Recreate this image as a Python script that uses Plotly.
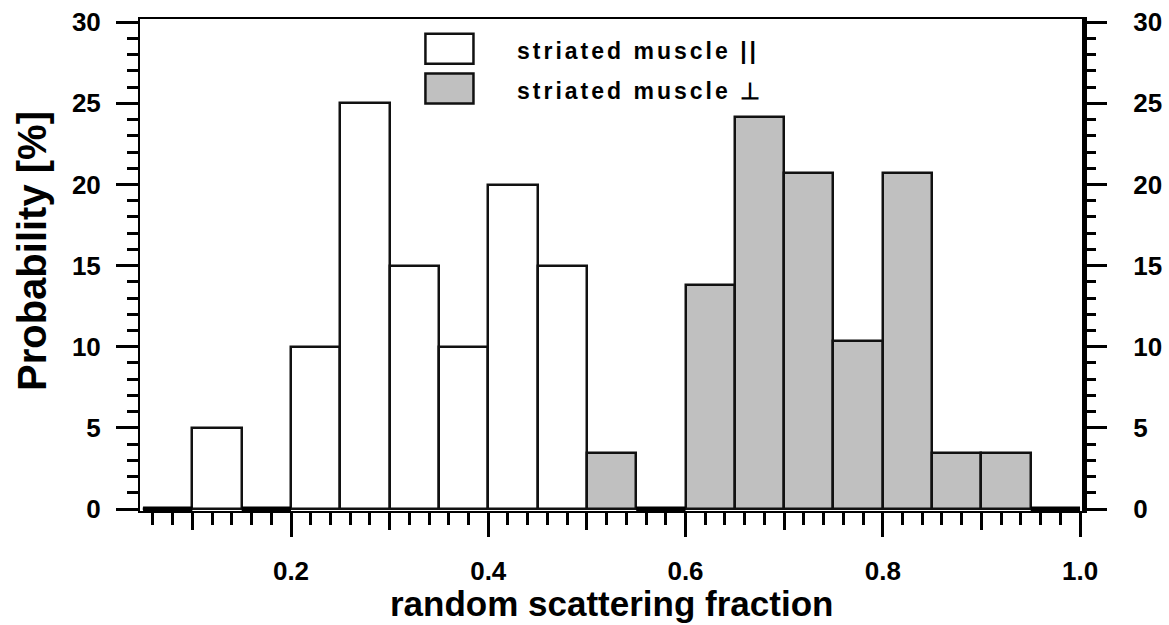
import plotly.graph_objects as go

# ---- data ----
bin_width = 0.05
parallel_bins = [0.075, 0.125, 0.175, 0.225, 0.275, 0.325, 0.375, 0.425, 0.475]
parallel_vals = [0, 5, 0, 10, 25, 15, 10, 20, 15]
perp_bins = [0.525, 0.575, 0.625, 0.675, 0.725, 0.775, 0.825, 0.875, 0.925, 0.975]
perp_vals = [3.45, 0, 13.79, 24.14, 20.69, 10.34, 20.69, 3.45, 3.45, 0]
series_names = ["striated muscle ||", "striated muscle \u22a5"]
x_major_ticks = [0.2, 0.4, 0.6, 0.8, 1.0]
x_major_labels = ["0.2", "0.4", "0.6", "0.8", "1.0"]
x_mid_ticks = [0.1, 0.3, 0.5, 0.7, 0.9]
y_ticks = [0, 5, 10, 15, 20, 25, 30]
x_title = "random scattering fraction"
y_title = "Probability [%]"

FONT = "Liberation Sans, Arial, sans-serif"
fill_colors = ["#ffffff", "#c0c0c0"]


def zero_segments(centers, vals):
    xs, ys = [], []
    for c, v in zip(centers, vals):
        if v == 0:
            xs += [c - bin_width / 2, c + bin_width / 2, None]
            ys += [0, 0, None]
    return xs, ys


fig = go.Figure()
for centers, vals, color, name in [
    (parallel_bins, parallel_vals, fill_colors[0], series_names[0]),
    (perp_bins, perp_vals, fill_colors[1], series_names[1]),
]:
    fig.add_trace(go.Bar(
        x=centers, y=vals, width=bin_width, name=name,
        marker=dict(color=color, line=dict(color="#111111", width=2.5)),
        showlegend=False,
    ))
    zx, zy = zero_segments(centers, vals)
    fig.add_trace(go.Scatter(
        x=zx, y=zy, mode="lines", line=dict(color="#000000", width=5),
        showlegend=False, hoverinfo="skip", cliponaxis=False,
    ))

# dummy traces to activate overlay axes
fig.add_trace(go.Scatter(x=[None], y=[None], xaxis="x2", yaxis="y",
                         showlegend=False, hoverinfo="skip"))
fig.add_trace(go.Scatter(x=[None], y=[None], xaxis="x", yaxis="y2",
                         showlegend=False, hoverinfo="skip"))

xr = [0.0469, 1.002]
yr = [-0.123, 30.2]

fig.update_layout(
    width=1169, height=625,
    margin=dict(l=140, r=87, t=19, b=114, autoexpand=False),
    paper_bgcolor="white", plot_bgcolor="white",
    bargap=0,
    font=dict(family=FONT, color="black"),
    xaxis=dict(
        range=xr, showgrid=False, zeroline=False, automargin=False,
        showline=True, linecolor="black", linewidth=2, mirror=True,
        tickmode="array", tickvals=x_major_ticks, ticktext=x_major_labels,
        ticks="outside", ticklen=24, tickwidth=3, tickcolor="black",
        ticklabelstandoff=12,
        tickfont=dict(family=FONT, size=26, color="black", weight="bold"),
        minor=dict(tickmode="linear", tick0=0, dtick=0.02, ticks="outside",
                   ticklen=12, tickwidth=3, tickcolor="black", showgrid=False),
    ),
    xaxis2=dict(
        range=xr, overlaying="x", anchor="y", side="bottom", automargin=False,
        showgrid=False, zeroline=False, showline=False,
        tickmode="array", tickvals=x_mid_ticks, showticklabels=False,
        ticks="outside", ticklen=18, tickwidth=3, tickcolor="black",
    ),
    yaxis=dict(
        range=yr, showgrid=False, zeroline=False, automargin=False,
        showline=True, linecolor="black", linewidth=2, mirror=False,
        tickmode="array", tickvals=y_ticks,
        ticks="outside", ticklen=22, tickwidth=2.5, tickcolor="black",
        ticklabelstandoff=10,
        tickfont=dict(family=FONT, size=26, color="black", weight="bold"),
        minor=dict(tickmode="linear", tick0=0, dtick=1, ticks="outside",
                   ticklen=11, tickwidth=2.5, tickcolor="black", showgrid=False),
    ),
    yaxis2=dict(
        range=yr, overlaying="y", anchor="x", side="right", automargin=False,
        showgrid=False, zeroline=False,
        showline=True, linecolor="black", linewidth=5,
        tickmode="array", tickvals=y_ticks,
        ticks="outside", ticklen=20, tickwidth=2.5, tickcolor="black",
        ticklabelstandoff=21,
        tickfont=dict(family=FONT, size=26, color="black", weight="bold"),
        minor=dict(tickmode="linear", tick0=0, dtick=1, ticks="outside",
                   ticklen=9, tickwidth=2.5, tickcolor="black", showgrid=False),
    ),
)

# axis titles
fig.add_annotation(xref="paper", yref="paper", x=0.5, y=-0.187,
                   xanchor="center", yanchor="middle", text=x_title, showarrow=False,
                   font=dict(family=FONT, size=35, color="black", weight="bold"))
fig.add_annotation(xref="paper", yref="paper", x=-0.1146, y=0.5285,
                   xanchor="center", yanchor="middle", textangle=-90,
                   text=y_title, showarrow=False,
                   font=dict(family=FONT, size=40, color="black", weight="bold"))

# legend drawn as boxes + text
leg_items = [
    (fill_colors[0], series_names[0], 0.909, 0.970, 0.935),
    (fill_colors[1], series_names[1], 0.828, 0.889, 0.854),
]
for color, label, y0, y1, ty in leg_items:
    fig.add_shape(type="rect", xref="paper", yref="paper",
                  x0=0.303, x1=0.354, y0=y0, y1=y1,
                  fillcolor=color, line=dict(color="#111111", width=2.5))
    fig.add_annotation(xref="paper", yref="paper", x=0.398, y=ty,
                       xanchor="left", yanchor="middle", align="left",
                       text=label, showarrow=False,
                       font=dict(family=FONT, size=23, color="black", weight="bold"))

post = """
document.querySelectorAll('.annotation-text').forEach(function(el){
  if (el.textContent.indexOf('striated') === 0) { el.style.letterSpacing = '3px'; }
});
"""
fig.write_html("out.html", post_script=post)
